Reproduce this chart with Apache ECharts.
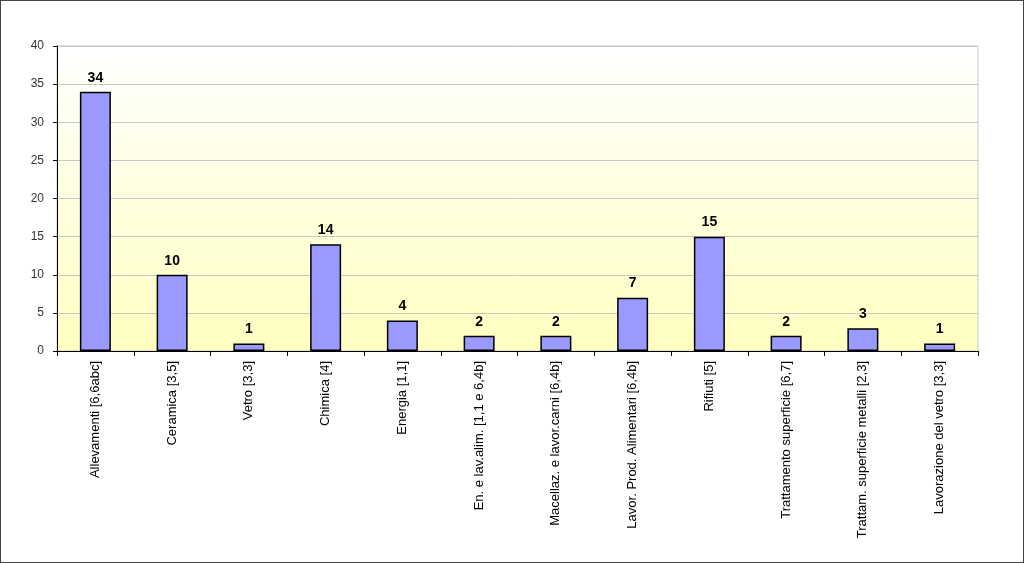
<!DOCTYPE html>
<html><head><meta charset="utf-8">
<script src="https://cdn.jsdelivr.net/npm/echarts@6/dist/echarts.min.js"></script>
<style>html,body{margin:0;padding:0;background:#fff}#c{width:1024px;height:563px;box-sizing:border-box;border:1px solid #444}</style>
</head><body><div id="c"></div>
<script>
var categories = ["Allevamenti [6,6abc]","Ceramica [3,5]","Vetro [3,3]","Chimica [4]","Energia [1,1]","En. e lav.alim. [1,1 e 6,4b]","Macellaz. e lavor.carni [6,4b]","Lavor. Prod. Alimentari [6,4b]","Rifiuti [5]","Trattamento superficie [6,7]","Trattam. superficie metalli [2,3]","Lavorazione del vetro [3,3]"];
var values = [34,10,1,14,4,2,2,7,15,2,3,1];
var chart = echarts.init(document.getElementById('c'));
chart.setOption({
  animation:false,
  grid:{left:56,right:45,top:45,bottom:211,show:true,borderWidth:1,borderColor:'#c8c8c8',
    backgroundColor:new echarts.graphic.LinearGradient(0,0,0,1,[{offset:0,color:'#ffffff'},{offset:1,color:'#ffffc0'}])},
  xAxis:{type:'category',data:categories,
    axisLine:{lineStyle:{color:'#000',width:1}},
    axisTick:{show:true,alignWithLabel:false,length:5,lineStyle:{color:'#000'}},
    axisLabel:{rotate:90,interval:0,color:'#000',fontFamily:'Liberation Sans, Arial',fontSize:13,margin:10}},
  yAxis:{type:'value',min:0,max:40,interval:5,
    axisLine:{show:true,lineStyle:{color:'#000'}},
    axisTick:{show:true,length:4,lineStyle:{color:'#000'}},
    splitLine:{lineStyle:{color:'#c8c8c8'}},
    axisLabel:{color:'#333',fontFamily:'Liberation Sans, Arial',fontSize:12,margin:13}},
  series:[{type:'bar',data:values,barWidth:31,
    itemStyle:{color:'#9999ff',borderColor:'#000',borderWidth:1.5},
    label:{show:true,position:'top',distance:7,color:'#000',fontWeight:'bold',fontSize:14,fontFamily:'Liberation Sans, Arial'}}]
});
</script></body></html>
